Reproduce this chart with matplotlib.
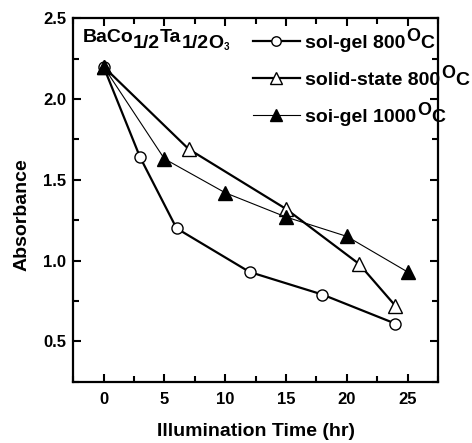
import matplotlib
matplotlib.use("Agg")
import matplotlib.pyplot as plt

plt.rcParams['font.family'] = ['Liberation Sans', 'DejaVu Sans']
plt.rcParams['font.weight'] = 'bold'

# sol-gel 800 C
t_sg800 = [0, 3, 6, 12, 18, 24]
a_sg800 = [2.20, 1.64, 1.20, 0.93, 0.79, 0.61]
# solid-state 800 C
t_ss800 = [0, 7, 15, 21, 24]
a_ss800 = [2.20, 1.69, 1.32, 0.98, 0.72]
# soi-gel 1000 C
t_sg1000 = [0, 5, 10, 15, 20, 25]
a_sg1000 = [2.20, 1.63, 1.42, 1.27, 1.15, 0.93]

labels = ["sol-gel 800", "solid-state 800", "soi-gel 1000"]
xticks = [0, 5, 10, 15, 20, 25]
yticks = [0.5, 1.0, 1.5, 2.0, 2.5]
ytick_labels = ['0.5', '1.0', '1.5', '2.0', '2.5']

fig = plt.figure(figsize=(4.72, 4.43), dpi=100)
ax = fig.add_axes([0.155, 0.138, 0.773, 0.821])

l1, = ax.plot(t_sg800, a_sg800, '-', color='black', lw=1.6, marker='o',
              ms=8, mfc='white', mec='black', zorder=2)
l2, = ax.plot(t_ss800, a_ss800, '-', color='black', lw=1.6, marker='^',
              ms=10, mfc='white', mec='black', zorder=3)
l3, = ax.plot(t_sg1000, a_sg1000, '-', color='black', lw=0.8, marker='^',
              ms=10, mfc='black', mec='black', zorder=4)

ax.set_xlim(-2.5, 27.5)
ax.set_ylim(0.25, 2.5)
ax.set_xticks(xticks)
ax.set_xticks([-2.5, 2.5, 7.5, 12.5, 17.5, 22.5, 27.5], minor=True)
ax.set_yticks(yticks)
ax.set_yticks([0.25, 0.75, 1.25, 1.75, 2.25], minor=True)
ax.set_yticklabels(ytick_labels)
ax.tick_params(which='both', direction='in', top=True, right=True,
               labelsize=12, width=1.5)
ax.tick_params(axis='x', pad=7)
ax.tick_params(axis='y', pad=5)
ax.tick_params(which='major', length=6)
ax.tick_params(which='minor', length=4)
for s in ax.spines.values():
    s.set_linewidth(1.6)

ax.set_xlabel('Illumination Time (hr)', fontsize=14, fontweight='bold')
ax.set_ylabel('Absorbance', fontsize=14, fontweight='bold')
ax.xaxis.set_label_coords(0.5, -0.113)
ax.yaxis.set_label_coords(-0.118, 0.46)

# compound formula, written piece by piece (y offsets relative to "BaCo")
parts = [("1/2", 14, -4.5), ("Ta", 14, 0), ("1/2", 14, -4.5),
         ("O", 14, -4.5), ("3", 7, -4.5)]
base = ax.text(0.025, 0.923, "BaCo", transform=ax.transAxes,
               ha='left', va='bottom', fontsize=14)
prev = base
for txt, size, dy in parts:
    prev = ax.annotate(txt, xy=(1, 0), xycoords=(prev, base), xytext=(0, dy),
                       textcoords='offset points', ha='left', va='bottom',
                       fontsize=size, fontweight='bold')

leg = ax.legend([l1, l2, l3], labels, loc='upper left',
                bbox_to_anchor=(0.45, 0.998), frameon=False, fontsize=14,
                handlelength=2.4, handletextpad=0.3, labelspacing=1.0,
                markerscale=0.85, borderpad=0.3)
# degree-style superscript "O" and "C" after each legend label
for t in leg.get_texts():
    sup = ax.annotate("O", xy=(1, 0), xycoords=(t, t), xytext=(0.5, 5),
                      textcoords='offset points', ha='left', va='bottom',
                      fontsize=13, fontweight='bold', zorder=6,
                      annotation_clip=False)
    ax.annotate("C", xy=(1, 0), xycoords=(sup, t), xytext=(0, 0),
                textcoords='offset points', ha='left', va='bottom',
                fontsize=14, fontweight='bold', zorder=6,
                annotation_clip=False)

fig.canvas.draw()
fig.savefig('out.png', dpi=100)
